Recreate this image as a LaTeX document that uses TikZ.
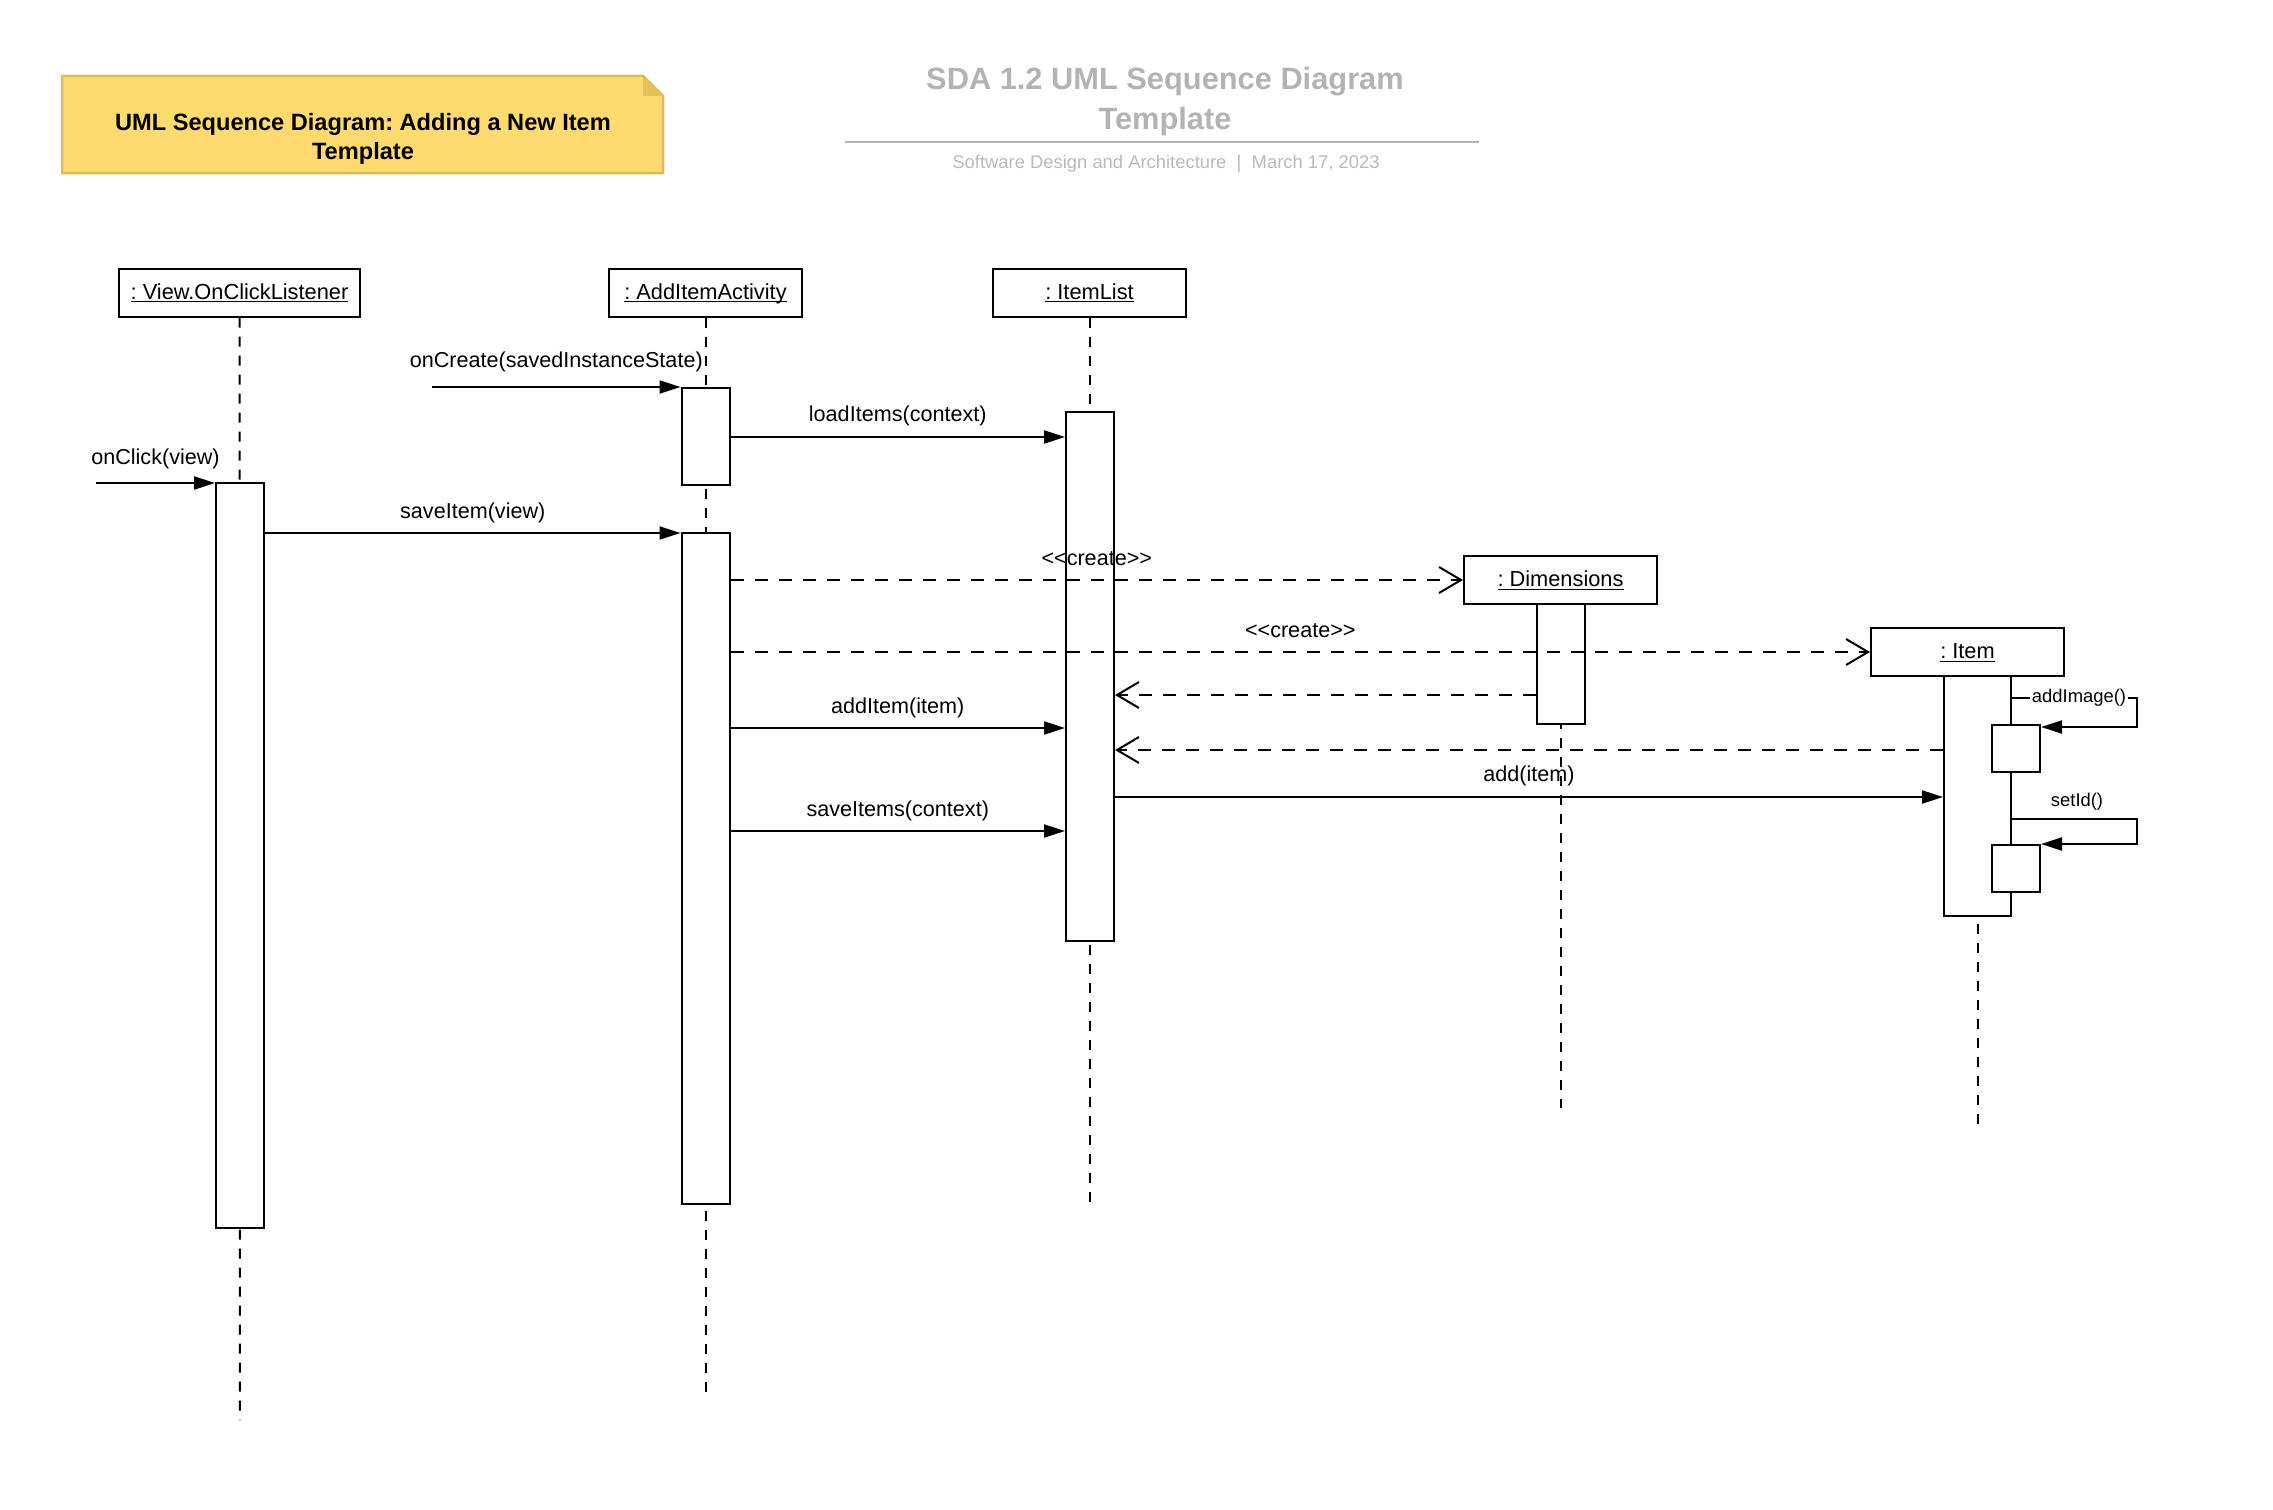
\documentclass[tikz,border=0pt]{standalone}
\usepackage{fontspec}
\setmainfont{Liberation Sans}
\usetikzlibrary{arrows.meta}
\definecolor{notefill}{HTML}{FFDA6F}
\definecolor{noteline}{HTML}{D8BE5A}
\definecolor{notefold}{HTML}{E2C257}
\definecolor{titlegray}{HTML}{B3B3B3}
\definecolor{subgray}{HTML}{B9B9B9}
\newcommand{\ulname}[1]{\underline{\raisebox{0pt}[\height][0pt]{#1}}}
\begin{document}
\frenchspacing
\begin{tikzpicture}[x=0.5pt,y=-0.5pt,
  head/.style={draw, line width=1pt, fill=white, minimum width=96.5pt, minimum height=24pt, inner sep=0pt, text height=8pt, text depth=1.5pt, font=\fontsize{10.9}{13}\selectfont},
  act/.style={draw, line width=1pt, fill=white, minimum width=24pt, inner sep=0pt},
  life/.style={line width=1pt, dash pattern=on 5pt off 4.5pt},
  msg/.style={line width=1pt, -{Triangle[length=10.5pt,width=6.5pt]}},
  ret/.style={line width=1pt, dash pattern=on 6.5pt off 5.5pt, -{Straight Barb[length=11pt,width=13pt]}},
  lbl/.style={font=\fontsize{10.8}{13}\selectfont, inner sep=0pt},
  slbl/.style={font=\fontsize{9.2}{11}\selectfont, inner sep=1pt}
]
\useasboundingbox (0,0) rectangle (2273,1509);

% ---- note
\fill[notefill] (62,76) -- (643,76) -- (663,96) -- (663,173) -- (62,173) -- cycle;
\draw[noteline, line width=1.25pt] (62,76) -- (643,76) -- (663,96) -- (663,173) -- (62,173) -- cycle;
\fill[notefold] (643,76) -- (663,96) -- (643,96) -- cycle;
\node[font=\fontsize{11.8}{14.5}\selectfont\bfseries, align=center] (notetxt) at (363,139) {UML Sequence Diagram: Adding a New Item\\Template};

% ---- title
\node[font=\fontsize{15.4}{20}\selectfont\bfseries, text=titlegray, align=center] (title) at (1165,101.5) {SDA 1.2 UML Sequence Diagram\\Template};
\coordinate (tl1) at (845,142);
\coordinate (tl2) at (1479,142);
\draw[titlegray, line width=1.25pt] (tl1) -- (tl2);
\node[font=\fontsize{9.2}{11}\selectfont, text=subgray] (sub) at (1166,164) {Software Design and Architecture\ \ |\ \ March 17, 2023};

% ---- lifeline heads
\node[head, minimum width=120.5pt] (hv) at (239.5,292.5) {\ulname{: View.OnClickListener}};
\node[head] (ha) at (705.5,292.5) {\ulname{: AddItemActivity}};
\node[head] (hl) at (1089.5,292.5) {\ulname{: ItemList}};

% ---- lifeline ends
\coordinate (ev) at (240,1420);
\coordinate (ea) at (705.5,1397);
\coordinate (el) at (1089.5,1205);
\coordinate (ed) at (1560.5,1108);
\coordinate (ei) at (1977.5,1132);

\draw[life] (hv.south) -- (ev);
\draw[life] (ha.south) -- (ea);
\draw[life] (hl.south) -- (el);

\node[head] (hd) at (1560.5,580) {\ulname{: Dimensions}};
\node[head] (hi) at (1967.5,652) {\ulname{: Item}};
\draw[life] (hd.south) -- (ed);
\draw[life] (hi.south -| ei) -- (ei);

% ---- activations
\node[act, minimum height=372.5pt] (av) at (240,855.5) {};
\node[act, minimum height=48.5pt] (aa1) at (705.5,436.5) {};
\node[act, minimum height=335.5pt] (aa2) at (705.5,868.5) {};
\node[act, minimum height=264.5pt] (al) at (1090,676.5) {};
\node[act, minimum height=60pt] (ad) at (1560.5,664) {};
\node[act, minimum width=33.5pt, minimum height=120pt] (ai) at (1977.5,796) {};
\node[act, minimum height=23.5pt] (ai1) at (2016,748.5) {};
\node[act, minimum height=23.5pt] (ai2) at (2016,868.5) {};

% ---- messages
\coordinate (sOC) at (432,387);
\draw[msg] (sOC) -- (aa1.west |- sOC) node[lbl, midway, yshift=12.5pt] {onCreate(savedInstanceState)};

\coordinate (sCL) at (96,483);
\draw[msg] (sCL) -- (av.west |- sCL) node[lbl, midway, yshift=12pt] {onClick(view)};

\draw[msg] (aa1.east |- 0,437) -- (al.west |- 0,437) node[lbl, midway, yshift=10.5pt] {loadItems(context)};
\draw[msg] (av.east |- 0,533) -- (aa2.west |- 0,533) node[lbl, midway, yshift=10pt] {saveItem(view)};
\draw[ret] (aa2.east |- hd.west) -- (hd.west) node[lbl, midway, yshift=10.5pt] {<{}<create>{}>};
\draw[ret] (aa2.east |- hi.west) -- (hi.west) node[lbl, midway, yshift=10.5pt] {<{}<create>{}>};
\draw[ret] (ad.west |- 0,695) -- (al.east |- 0,695);
\draw[msg] (aa2.east |- 0,728) -- (al.west |- 0,728) node[lbl, midway, yshift=10pt] {addItem(item)};
\draw[ret] (ai.west |- 0,750) -- (al.east |- 0,750);
\draw[msg] (al.east |- 0,797) -- (ai.west |- 0,797) node[lbl, midway, yshift=10.5pt] {add(item)};
\draw[msg] (aa2.east |- 0,831) -- (al.west |- 0,831) node[lbl, midway, yshift=10pt] {saveItems(context)};

% ---- self messages
\coordinate (k1) at (2137,698);
\coordinate (k2) at (2137,727);
\draw[msg] (ai.east |- k1) -- (k1) -- (k2) -- (ai1.east |- k2);
\node[slbl, fill=white] (lai) at (2079,698) {addImage()};

\coordinate (k3) at (2137,819);
\coordinate (k4) at (2137,844);
\draw[msg] (ai.east |- k3) -- (k3) -- (k4) -- (ai2.east |- k4);
\node[slbl] (lsi) at (2077,802) {setId()};
\end{tikzpicture}
\end{document}
